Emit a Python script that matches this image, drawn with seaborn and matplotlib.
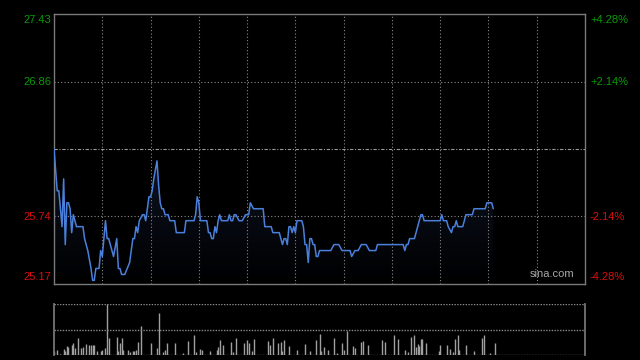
import numpy as np
import pandas as pd
import seaborn as sns
import matplotlib.pyplot as plt

# intraday price (minute from open, price), HK session 330 min
minutes = [0, 2, 3, 5, 6, 7, 8, 9, 10, 11, 12, 13, 14, 18, 19, 21, 23, 24, 25, 26, 28, 29, 30, 32, 33, 34,
           37, 39, 40, 41, 42, 44, 47, 49, 50, 51, 52, 53, 55, 56, 57, 59, 60, 61, 62, 64, 65, 66, 67, 68,
           69, 71, 72, 75, 76, 81, 82, 87, 88, 89, 90, 91, 95, 96, 97, 98, 99, 100, 101, 102, 103, 104,
           108, 109, 110, 111, 112, 113, 115, 117, 119, 121, 122, 124, 130, 131, 135, 136, 140, 142, 143,
           144, 145, 146, 147, 148, 149, 150, 151, 154, 155, 156, 157, 158, 159, 160, 161, 162, 163, 164,
           165, 172, 174, 177, 179, 184, 185, 187, 189, 191, 194, 196, 200, 201, 217, 218, 219, 220, 221,
           224, 225, 228, 229, 230, 240, 241, 242, 244, 245, 247, 248, 249, 250, 251, 254, 256, 260, 261,
           268, 269, 272, 273]
prices = [26.30, 25.95, 25.95, 25.65, 26.05, 25.50, 25.85, 25.85, 25.80, 25.60, 25.75, 25.70, 25.65, 25.65,
          25.55, 25.45, 25.30, 25.20, 25.20, 25.30, 25.30, 25.45, 25.40, 25.70, 25.55, 25.55,
          25.40, 25.55, 25.30, 25.30, 25.25, 25.25, 25.35, 25.55, 25.55, 25.65, 25.60, 25.70, 25.75, 25.75,
          25.70, 25.90, 25.90, 25.95, 26.05, 26.20, 26.00, 25.85, 25.80, 25.80,
          25.75, 25.75, 25.70, 25.70, 25.60, 25.60, 25.70, 25.70, 25.75, 25.90, 25.85, 25.70, 25.70, 25.60,
          25.60, 25.55, 25.55, 25.65, 25.60, 25.70, 25.75, 25.70,
          25.70, 25.75, 25.70, 25.70, 25.75, 25.75, 25.70, 25.70, 25.75, 25.75, 25.85, 25.80, 25.80, 25.65,
          25.65, 25.60, 25.60, 25.50, 25.55,
          25.55, 25.50, 25.65, 25.65, 25.60, 25.65, 25.60, 25.70, 25.70, 25.65, 25.50, 25.50, 25.35, 25.55,
          25.55, 25.50, 25.50, 25.40, 25.40,
          25.45, 25.45, 25.50, 25.50, 25.45, 25.45, 25.40, 25.45, 25.45, 25.50, 25.50, 25.45, 25.45, 25.50,
          25.50, 25.45, 25.50, 25.50, 25.55,
          25.55, 25.60, 25.75, 25.75, 25.70, 25.70, 25.75, 25.70, 25.70, 25.65, 25.60, 25.65, 25.65, 25.70,
          25.65, 25.65, 25.75, 25.75, 25.80,
          25.80, 25.85, 25.85, 25.80]

# volume (relative units)
vol_min = [0, 2, 4, 6, 7, 8, 9, 11, 12, 13, 15, 17, 18, 20, 22, 23, 24, 25, 27, 29, 30, 32, 33, 34, 39, 40,
           41, 42, 43, 46, 47, 49, 50, 51, 52, 54, 60, 64, 65, 68, 69, 70, 75, 80, 83, 87, 88, 91, 92, 97,
           101, 102, 103, 105, 110, 111, 113, 118, 120, 121, 123, 124, 133, 134, 136, 139, 141, 142, 143,
           146, 151, 156, 159, 163, 165, 166, 168, 170, 174, 176, 179, 180, 182, 186, 187, 191, 192, 195,
           204, 206, 211, 214, 218, 220, 222, 224, 225, 226, 227, 228, 229, 231, 239, 240, 244, 246, 248,
           249, 251, 252, 256, 261, 266, 267, 271, 274]
volumes = [7, 10, 2, 12, 7, 18, 16, 20, 23, 13, 33, 13, 15, 22, 20, 20, 20, 20, 8, 8, 10, 14, 100, 33, 35, 8,
           23, 33, 10, 10, 5, 7, 7, 9, 26, 57, 23, 13, 82, 5, 10, 23, 23, 3, 28, 39, 5, 11, 9, 8,
           10, 15, 30, 20, 26, 5, 33, 24, 29, 24, 7, 31, 28, 20, 33, 24, 26, 8, 30,
           18, 10, 22, 8, 30, 41, 7, 15, 9, 33, 3, 23, 9, 48, 18, 13, 26, 28, 20,
           30, 26, 39, 31, 10, 5, 36, 39, 15, 21, 18, 32, 32, 24, 8, 20, 20, 12, 6,
           32, 39, 10, 20, 8, 34, 39, 3, 24]

prev_close = 26.30
left_labels = ['27.43', '26.86', '25.74', '25.17']
right_labels = ['+4.28%', '+2.14%', '-2.14%', '-4.28%']
label_y = [20, 82, 217, 277]  # pixel rows of the labels

df = pd.DataFrame({'minute': minutes, 'price': prices})

sns.set_theme(style='dark')
plt.rcParams['font.family'] = ['Liberation Sans', 'DejaVu Sans']

fig = plt.figure(figsize=(6.4, 3.6), dpi=100, facecolor='black')
ax = fig.add_axes([54 / 640, 1 - 284 / 360, 531 / 640, 270 / 360], facecolor='black')
axv = fig.add_axes([54 / 640, 1 - 355 / 360, 531 / 640, 51 / 360], facecolor='black')

ymin, ymax = 25.17, 27.43

# gradient fill under the line
poly = ax.fill_between(df['minute'], df['price'], ymin, color='none', lw=0)
grad = np.linspace(1, 0, 256).reshape(-1, 1)
cmap = sns.blend_palette(['#000000', '#0d1424'], as_cmap=True)
img = ax.imshow(grad, cmap=cmap, aspect='auto', extent=[0, 330, ymin, df['price'].max()],
                origin='upper', zorder=1)
img.set_clip_path(poly.get_paths()[0], transform=ax.transData)

sns.lineplot(data=df, x='minute', y='price', ax=ax, color='#4a80dc', lw=1.1,
             estimator=None, sort=False, zorder=3)

ax.set_xlim(0, 330)
ax.set_ylim(ymin, ymax)

# grid
for m in range(30, 330, 30):
    ax.axvline(m, color='#8a8a8a', lw=0.8, ls=(0, (1, 2)), zorder=2)
for p in [26.86, 25.74]:
    ax.axhline(p, color='#8a8a8a', lw=0.8, ls=(0, (1, 2)), zorder=2)
ax.axhline(prev_close, color='#9a9a9a', lw=0.8, ls=(0, (3, 1.5, 1, 1.5)), zorder=2)

ax.set_xticks([])
ax.set_yticks([])
ax.set_xlabel('')
ax.set_ylabel('')
for s in ax.spines.values():
    s.set_color('#7a7a7a')
    s.set_linewidth(1)
    s.set_visible(True)

ax.text(0.98, 0.02, 'sina.com', transform=ax.transAxes, ha='right', va='bottom',
        color='#a8a8a8', fontsize=8)

# volume
axv.vlines(vol_min, 0, volumes, color='#a0a0a0', lw=1.0)
axv.set_xlim(0, 330)
axv.set_ylim(0, 100)
for v in [100, 50, 0.5]:
    axv.axhline(v, color='#8a8a8a', lw=1.0, ls=(0, (1, 1)), zorder=2)
axv.set_xticks([])
axv.set_yticks([])
for k, s in axv.spines.items():
    s.set_color('#7a7a7a')
    s.set_visible(k in ('left', 'right'))

# axis labels
for i in range(4):
    c = '#0a9a0a' if i < 2 else '#d80f0f'
    fig.text(51 / 640, 1 - label_y[i] / 360, left_labels[i], ha='right', va='center',
             color=c, fontsize=8)
    fig.text(590 / 640, 1 - label_y[i] / 360, right_labels[i], ha='left', va='center',
             color=c, fontsize=8)

fig.savefig('out.png', dpi=100, facecolor='black')
